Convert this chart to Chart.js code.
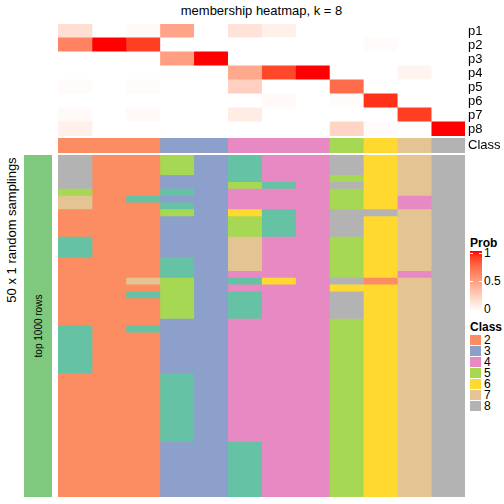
<!DOCTYPE html>
<html>
<head>
<meta charset="utf-8">
<script src="https://cdn.jsdelivr.net/npm/chart.js@4.4.0/dist/chart.umd.min.js"></script>
<style>
  body { margin: 0; width: 504px; height: 504px; position: relative; background: #fff; overflow: hidden;
         font-family: "Liberation Sans", Arial, sans-serif; color: #000; }
  canvas, .abs { position: absolute; }
  .rot { position: absolute; white-space: nowrap; transform: translate(-50%, -50%) rotate(-90deg); }
  .leg-title { position: absolute; left: 470px; font-size: 12px; font-weight: bold; }
  .leg-lab { position: absolute; left: 484px; font-size: 12px; line-height: 12px; }
</style>
</head>
<body>
<div class="abs" style="left:58px;width:407px;top:3px;text-align:center;font-size:13px">membership heatmap, k = 8</div>

<canvas id="probChart" width="446" height="112" style="left:58px;top:24px"></canvas>
<canvas id="classChart" width="446" height="15" style="left:58px;top:138px"></canvas>
<canvas id="sampChart" width="407" height="342" style="left:58px;top:155px"></canvas>

<div class="abs" style="left:24px;top:155px;width:28px;height:342px;background:#7FC97F"></div>
<div class="rot" style="left:38px;top:326px;font-size:10px">top 1000 rows</div>
<div class="rot" style="left:11px;top:230px;font-size:13px">50 x 1 random samplings</div>

<div id="legend"></div>

<script>
// rows of the membership matrix (one value per sample column)
const probRows = ['p1', 'p2', 'p3', 'p4', 'p5', 'p6', 'p7', 'p8'];
const p1 = [0.17, 0, 0.03, 0.47, 0, 0.15, 0.08, 0, 0, 0, 0, 0];
const p2 = [0.63, 1, 0.9, 0, 0, 0, 0, 0, 0, 0.02, 0, 0];
const p3 = [0, 0, 0, 0.5, 1, 0, 0, 0, 0, 0, 0, 0];
const p4 = [0, 0, 0, 0, 0, 0.45, 0.87, 1, 0, 0, 0.06, 0];
const p5 = [0.02, 0, 0.02, 0, 0, 0.25, 0, 0, 0.73, 0, 0, 0];
const p6 = [0, 0, 0, 0, 0, 0, 0.03, 0, 0.02, 0.93, 0, 0];
const p7 = [0.03, 0, 0.03, 0, 0, 0.1, 0, 0, 0, 0, 0.9, 0];
const p8 = [0.08, 0, 0, 0, 0, 0, 0, 0, 0.22, 0.02, 0, 1];

// consensus class of each column
const classRow = [2, 2, 2, 3, 3, 4, 4, 4, 5, 6, 7, 8];

// class of each column in the 50 random samplings (one string per column, top to bottom)
const samplings = [
  '88888577222211122222222221111111222222222222222222',
  '22222222222222222222222222222222222222222222222222',
  '22222212222222222272122221222222222222222222222222',
  '55533131533333311155555533333333111111111133333333',
  '33333333333333333333333333333333333333333333333333',
  '11115444655577777414111144444444444444444411111111',
  '44441444111144444464444444444444444444444444444444',
  '44444444444444444444444444444444444444444444444444',
  '88858555888855555586888855555555555555555555555555',
  '66666666866666666626666666666666666666666666666666',
  '77777744777777777477777777777777777777777777777777',
  '88888888888888888888888888888888888888888888888888'
];

const legendClasses = ['2', '3', '4', '5', '6', '7', '8'];
const probTicks = [1, 0.5, 0];

const classColors = {
  1: '#66C2A5', 2: '#FC8D62', 3: '#8DA0CB', 4: '#E78AC3',
  5: '#A6D854', 6: '#FFD92F', 7: '#E5C494', 8: '#B3B3B3'
};

// white -> red in LAB space, like colorRamp2
function probColor(v) {
  const L = 100 + (53.24 - 100) * v, A = 80.09 * v, B = 67.2 * v;
  const fy = (L + 16) / 116, fx = fy + A / 500, fz = fy - B / 200;
  const inv = t => t > 6 / 29 ? t * t * t : 3 * (6 / 29) * (6 / 29) * (t - 4 / 29);
  const X = 0.95047 * inv(fx), Y = inv(fy), Z = 1.08883 * inv(fz);
  const lin = [
    3.2404542 * X - 1.5371385 * Y - 0.4985314 * Z,
    -0.9692660 * X + 1.8760108 * Y + 0.0415560 * Z,
    0.0556434 * X - 0.2040259 * Y + 1.0572252 * Z
  ];
  const c = lin.map(u => {
    u = u <= 0.0031308 ? 12.92 * u : 1.055 * Math.pow(u, 1 / 2.4) - 0.055;
    return Math.round(255 * Math.min(1, Math.max(0, u)));
  });
  return `rgb(${c[0]},${c[1]},${c[2]})`;
}

Chart.defaults.font.family = '"Liberation Sans", Arial, sans-serif';
Chart.defaults.color = '#000';

const probMatrix = [p1, p2, p3, p4, p5, p6, p7, p8];
const nCols = classRow.length;

function cellDatasets(rowLabels, colorAt) {
  return classRow.map((_, j) => ({
    data: rowLabels.map(() => [j, j + 1]),
    backgroundColor: rowLabels.map((_, i) => colorAt(i, j)),
    grouped: false,
    barPercentage: 1,
    categoryPercentage: 1,
    borderWidth: 0,
    inflateAmount: 0.4
  }));
}

function heatOptions(showLabels) {
  const y = {
    display: showLabels,
    position: 'right',
    grid: { display: false, drawTicks: false },
    border: { display: false },
    ticks: { padding: 3, autoSkip: false, font: { size: 13 } }
  };
  if (showLabels) {
    // fixed label column, and no extra padding above/below the cells
    y.afterFit = scale => {
      scale.width = 39;
      scale.paddingTop = 0;
      scale.paddingBottom = 0;
    };
  }
  return {
    indexAxis: 'y',
    responsive: false,
    animation: false,
    devicePixelRatio: 1,
    layout: { padding: 0 },
    plugins: { legend: { display: false }, tooltip: { enabled: false } },
    scales: {
      x: { type: 'linear', min: 0, max: nCols, display: false },
      y: y
    }
  };
}

new Chart(document.getElementById('probChart'), {
  type: 'bar',
  data: { labels: probRows, datasets: cellDatasets(probRows, (i, j) => probColor(probMatrix[i][j])) },
  options: heatOptions(true)
});

new Chart(document.getElementById('classChart'), {
  type: 'bar',
  data: { labels: ['Class'], datasets: cellDatasets(['Class'], (i, j) => classColors[classRow[j]]) },
  options: heatOptions(true)
});

const sampRows = samplings[0].split('').map((_, i) => 'r' + (i + 1));
new Chart(document.getElementById('sampChart'), {
  type: 'bar',
  data: { labels: sampRows, datasets: cellDatasets(sampRows, (i, j) => classColors[samplings[j][i]]) },
  options: heatOptions(false)
});

// legends
const leg = document.getElementById('legend');
let html = '<div class="leg-title" style="top:236px">Prob</div>';
const stops = [];
for (let k = 0; k <= 10; k++) stops.push(probColor(k / 10) + ' ' + (k * 10) + '%');
html += `<div class="abs" style="left:470px;top:251px;width:12px;height:60px;background:linear-gradient(to top, ${stops.join(',')})"></div>`;
probTicks.forEach(t => {
  const y = 253 + (1 - t) * 56;
  if (t > 0) {
    html += `<div class="abs" style="left:470px;top:${y}px;width:3px;height:1px;background:#fff"></div>`;
    html += `<div class="abs" style="left:479px;top:${y}px;width:3px;height:1px;background:#fff"></div>`;
  }
  html += `<div class="leg-lab" style="top:${y - 6}px">${t}</div>`;
});
html += '<div class="leg-title" style="top:320px">Class</div>';
legendClasses.forEach((c, i) => {
  const y = 335 + i * 11;
  html += `<div class="abs" style="left:470px;top:${y}px;width:11px;height:10px;background:${classColors[c]}"></div>`;
  html += `<div class="leg-lab" style="top:${y - 1}px">${c}</div>`;
});
leg.innerHTML = html;
</script>
</body>
</html>
